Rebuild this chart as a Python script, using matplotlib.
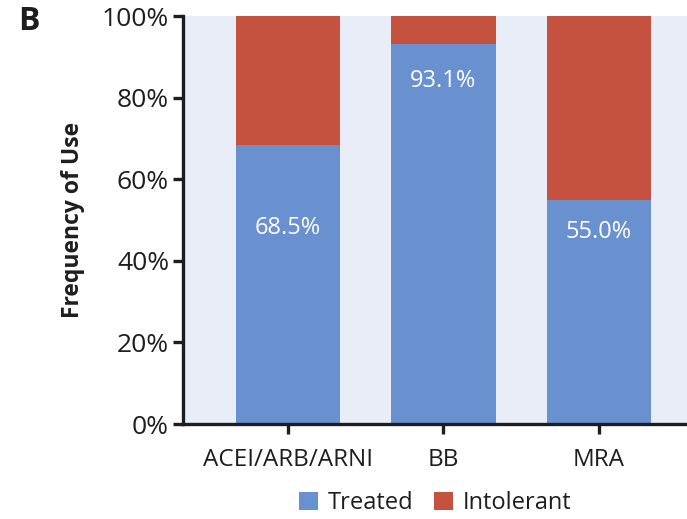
import matplotlib
matplotlib.use("Agg")
import matplotlib.pyplot as plt
import numpy as np

categories = ["ACEI/ARB/ARNI", "BB", "MRA"]
treated = [68.5, 93.1, 55.0]
intolerant = [100 - t for t in treated]
labels = ["68.5%", "93.1%", "55.0%"]
yticks = [0, 20, 40, 60, 80, 100]

blue = "#6990cf"
red = "#c4523f"
bg = "#e9edf7"
ink = "#1e1e1e"

plt.rcParams['font.family'] = ['Open Sans', 'DejaVu Sans']
plt.rcParams['font.weight'] = 'medium'

fig = plt.figure(figsize=(6.87, 5.19), dpi=100)
ax = fig.add_axes([183/687, 95/519, 1 - 183/687, (424-16)/519])
ax.set_facecolor(bg)
x = np.arange(len(categories))
w = 0.67
ax.bar(x, treated, width=w, color=blue, label="Treated", zorder=2)
ax.bar(x, intolerant, width=w, bottom=treated, color=red, label="Intolerant", zorder=2)

label_y = [48, 84, 47]
for xi, lab, ly in zip(x, labels, label_y):
    ax.text(xi, ly, lab, ha="center", va="center", color="white", fontsize=17)

ax.set_xlim(-0.675, 2.566)
ax.set_ylim(0, 100)
ax.set_yticks(yticks)
ax.set_yticklabels([f"{v}%" for v in yticks], fontsize=19)
ax.set_xticks(x)
ax.set_xticklabels(categories, fontsize=17.5)
ax.set_ylabel("Frequency of Use", fontsize=16.5, fontweight="bold", labelpad=12, color=ink)
for s in ["top", "right"]:
    ax.spines[s].set_visible(False)
for s in ["left", "bottom"]:
    ax.spines[s].set_linewidth(2.4)
    ax.spines[s].set_color(ink)
ax.tick_params(axis="both", width=2.4, length=7, color=ink, labelcolor=ink)
ax.tick_params(axis="x", pad=10)
ax.tick_params(axis="y", pad=3)

fig.legend(loc="center", bbox_to_anchor=(435/687, 1 - 503/519), ncol=2, frameon=False,
           fontsize=17, handlelength=0.8, handleheight=0.8, handletextpad=0.4, columnspacing=0.9,
           labelcolor=ink)
fig.text(18/687, 1 - 22/519, "B", fontsize=23, fontweight="bold", va="center", ha="left", color=ink)

fig.savefig("out.png", dpi=100)
